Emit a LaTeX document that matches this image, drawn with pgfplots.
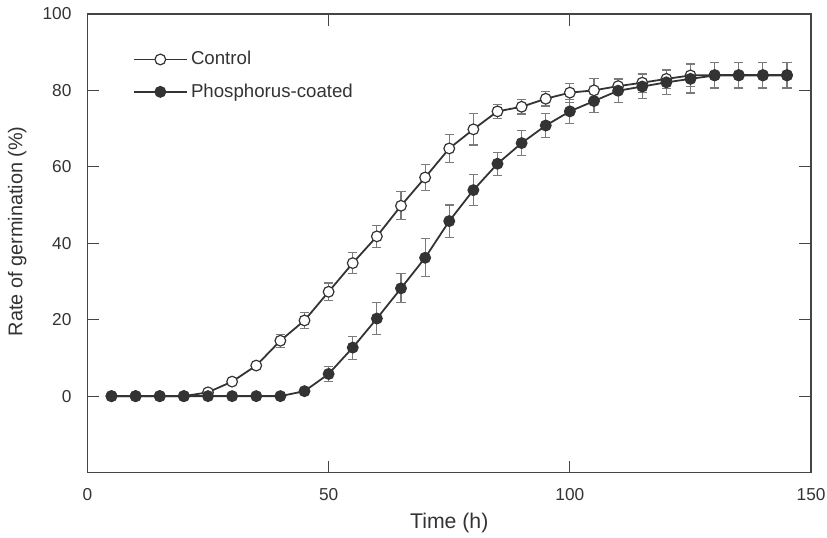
\documentclass[border=0pt]{standalone}
\usepackage{fontspec}
\setmainfont{Liberation Sans}
\usepackage{pgfplots}
\usepackage{pgfplotstable}
\pgfplotsset{compat=1.18}
\definecolor{ln}{HTML}{333333}
\definecolor{eb}{HTML}{7A7A7A}
\definecolor{ax}{HTML}{454545}

% time (h), rate (%), error
\pgfplotstableread{
t y e
5 0 0
10 0 0
15 0 0
20 0 0
25 1.0 0
30 3.8 0
35 8.0 0
40 14.5 1.7
45 19.8 2.0
50 27.3 2.3
55 34.8 2.8
60 41.8 2.9
65 49.8 3.7
70 57.2 3.5
75 64.8 3.7
80 69.8 4.1
85 74.5 1.9
90 75.7 1.9
95 77.8 1.9
100 79.4 2.5
105 80.0 3.0
110 81.1 2.0
115 82.0 2.5
120 83.0 2.5
125 83.9 3.0
130 84.0 3.3
135 84.0 3.3
140 84.0 3.3
145 84.0 3.3
}\ctrl

\pgfplotstableread{
t y e
5 0 0
10 0 0
15 0 0
20 0 0
25 0 0
30 0 0
35 0 0
40 0 0
45 1.3 0
50 5.8 1.9
55 12.7 3.0
60 20.3 4.2
65 28.2 3.8
70 36.2 5.0
75 45.8 4.2
80 53.9 4.0
85 60.8 3.0
90 66.2 3.3
95 70.8 3.1
100 74.5 3.1
105 77.2 2.9
110 79.9 3.0
115 81.0 3.2
120 82.1 3.2
125 83.0 3.7
130 83.9 3.3
135 83.9 3.3
140 83.9 3.3
145 83.9 3.3
}\phos

\begin{document}
\begin{tikzpicture}
\useasboundingbox (-44pt,-32.5pt) rectangle (372.5pt,238pt);
\begin{axis}[
  at={(0,0)}, anchor=south west, scale only axis,
  width=364.5pt, height=231pt,
  xmin=0, xmax=150, ymin=-20, ymax=100,
  xtick={0,50,100,150}, ytick={0,20,...,100},
  tick pos=both, tick align=inside, major tick length=6pt,
  tick style={ax, line width=0.5pt},
  axis line style={ax, line width=0.8pt},
  /pgf/number format/assume math mode=true,
  tick label style={font=\fontsize{8.7}{10}\selectfont, text=ln},
  yticklabel style={xshift=-4.5pt},
  xticklabel style={yshift=-4.5pt},
  xlabel={Time (h)}, ylabel={Rate of germination (\%)},
  xlabel style={at={(axis description cs:0.5,-0.11)}, anchor=center,
    font=\fontsize{10.7}{12}\selectfont, text=ln},
  ylabel style={at={(axis description cs:-0.097,0.526)}, anchor=center,
    font=\fontsize{10}{12}\selectfont, text=ln},
  legend style={draw=none, fill=none, inner sep=0pt,
    at={(axis description cs:0.062,0.926)}, anchor=north west,
    font=\fontsize{9.4}{11}\selectfont, text=ln,
    row sep=5pt, nodes={inner sep=1.5pt}},
  legend cell align=left,
  legend image code/.code={\draw[mark repeat=2,mark phase=2,#1]
    plot coordinates {(0pt,0pt) (13.5pt,0pt) (27pt,0pt)};},
]
\addplot[ln, line width=0.9pt, mark=*, mark size=2.7pt,
  mark options={fill=white, draw=ln, line width=0.6pt},
  error bars/.cd, y dir=both, y explicit,
  error bar style={eb, line width=0.55pt},
  error mark options={rotate=90, mark size=2.3pt, eb, line width=0.55pt}]
  table[x=t, y=y, y error=e] {\ctrl};
\addlegendentry{Control}
\addplot[ln, line width=0.9pt, mark=*, mark size=2.7pt,
  mark options={fill=ln, draw=ln, line width=0.6pt},
  error bars/.cd, y dir=both, y explicit,
  error bar style={eb, line width=0.55pt},
  error mark options={rotate=90, mark size=2.3pt, eb, line width=0.55pt}]
  table[x=t, y=y, y error=e] {\phos};
\addlegendentry{Phosphorus-coated}
\end{axis}
\end{tikzpicture}
\end{document}
